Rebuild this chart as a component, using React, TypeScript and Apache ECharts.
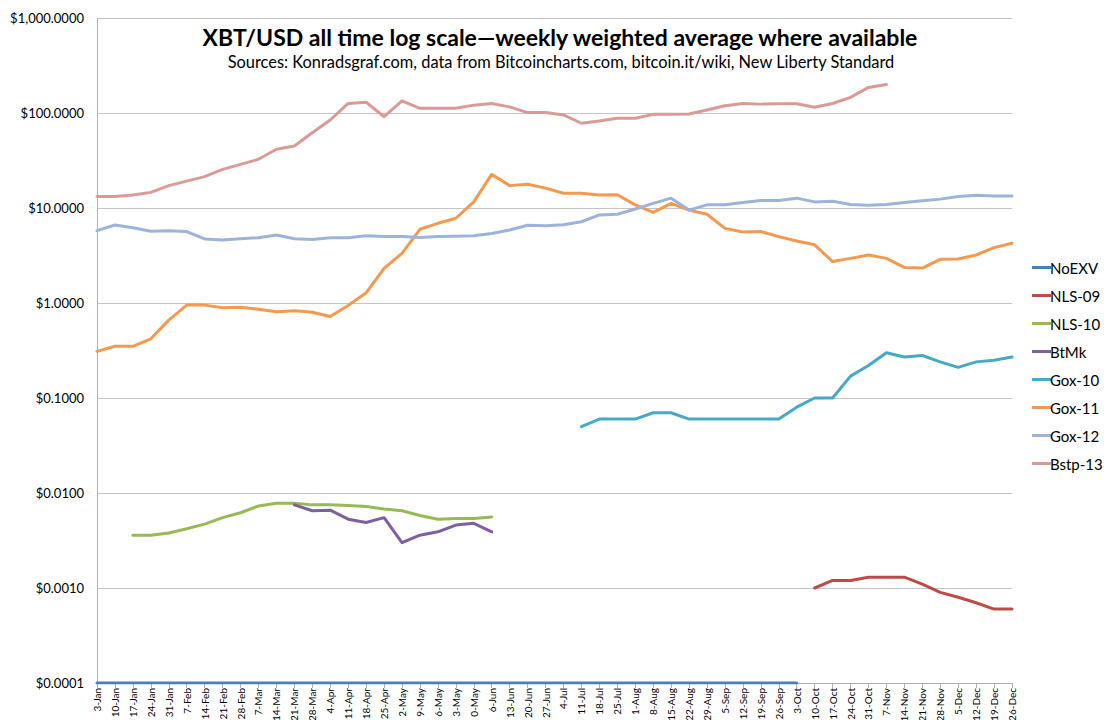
import React, { useEffect, useRef } from "react";
import * as echarts from "echarts";

const categories = ["3-Jan","10-Jan","17-Jan","24-Jan","31-Jan","7-Feb","14-Feb","21-Feb","28-Feb","7-Mar","14-Mar","21-Mar","28-Mar","4-Apr","11-Apr","18-Apr","25-Apr","2-May","9-May","6-May","3-May","0-May","6-Jun","13-Jun","20-Jun","27-Jun","4-Jul","11-Jul","18-Jul","25-Jul","1-Aug","8-Aug","15-Aug","22-Aug","29-Aug","5-Sep","12-Sep","19-Sep","26-Sep","3-Oct","10-Oct","17-Oct","24-Oct","31-Oct","7-Nov","14-Nov","21-Nov","28-Nov","5-Dec","12-Dec","19-Dec","26-Dec"];

const _ = null;

const noEXV = [0.0001,0.0001,0.0001,0.0001,0.0001,0.0001,0.0001,0.0001,0.0001,0.0001,
  0.0001,0.0001,0.0001,0.0001,0.0001,0.0001,0.0001,0.0001,0.0001,0.0001,
  0.0001,0.0001,0.0001,0.0001,0.0001,0.0001,0.0001,0.0001,0.0001,0.0001,
  0.0001,0.0001,0.0001,0.0001,0.0001,0.0001,0.0001,0.0001,0.0001,0.0001,
  _,_,_,_,_,_,_,_,_,_,_,_];

const nls09 = [_,_,_,_,_,_,_,_,_,_,_,_,_,_,_,_,_,_,_,_,_,_,_,_,_,_,_,_,_,_,_,_,_,_,_,_,_,_,_,_,
  0.001,0.0012,0.0012,0.0013,0.0013,0.0013,0.0011,0.0009,0.0008,0.0007,0.0006,0.0006];

const nls10 = [_,_,0.0036,0.0036,0.0038,0.0042,0.0047,0.0055,0.0062,0.0073,0.0078,0.0078,0.0075,0.0075,0.0074,0.0072,0.0068,0.0065,0.0058,0.0053,0.0054,0.0054,0.0056,
  _,_,_,_,_,_,_,_,_,_,_,_,_,_,_,_,_,_,_,_,_,_,_,_,_,_,_,_,_,_];

const btmk = [_,_,_,_,_,_,_,_,_,_,_,0.0075,0.0065,0.0066,0.0053,0.0049,0.0055,0.003,0.0036,0.0039,0.0046,0.0048,0.0039,
  _,_,_,_,_,_,_,_,_,_,_,_,_,_,_,_,_,_,_,_,_,_,_,_,_,_,_,_,_,_];

const gox10 = [_,_,_,_,_,_,_,_,_,_,_,_,_,_,_,_,_,_,_,_,_,_,_,_,_,_,_,
  0.05,0.06,0.06,0.06,0.07,0.07,0.06,0.06,0.06,0.06,0.06,0.06,0.08,0.1,0.1,0.17,0.22,0.3,0.27,0.28,0.24,0.21,0.24,0.25,0.27];

const gox11 = [0.31,0.35,0.35,0.42,0.66,0.95,0.95,0.89,0.9,0.86,
  0.81,0.83,0.8,0.72,0.94,1.28,2.32,3.33,5.97,6.9,
  7.8,11.6,22.6,17.2,17.8,16.2,14.3,14.3,13.7,13.8,
  10.8,9.0,11.2,9.5,8.6,6.1,5.6,5.65,5.0,4.5,
  4.1,2.73,2.95,3.2,2.95,2.37,2.33,2.88,2.9,3.2,3.83,4.25];

const gox12 = [5.77,6.62,6.2,5.68,5.77,5.65,4.72,4.6,4.75,4.87,
  5.2,4.75,4.65,4.85,4.85,5.1,5.0,5.0,4.9,5.0,
  5.05,5.1,5.4,5.87,6.58,6.5,6.67,7.17,8.45,8.6,
  9.76,11.2,12.7,9.5,10.8,10.8,11.4,12.0,12.0,12.7,
  11.6,11.8,10.9,10.7,10.9,11.4,11.9,12.4,13.2,13.6,13.4,13.4];

const bstp13 = [13.2,13.2,13.7,14.6,17.2,19.2,21.4,25.5,28.8,32.6,
  41.5,45,62,84.4,126,130,91.4,134,112,112,
  112,121,126,116,101,101,95.3,78,82.4,88,
  88,96.8,96.8,97.5,107.6,119,126,124,125,125,
  115,126,146,186,200,_,_,_,_,_,_,_];

const seriesNames = ["NoEXV","NLS-09","NLS-10","BtMk","Gox-10","Gox-11","Gox-12","Bstp-13"];
const seriesData = [noEXV, nls09, nls10, btmk, gox10, gox11, gox12, bstp13];
const seriesColors = ["#4a7ebb","#be4b48","#98b954","#7d60a0","#46aac5","#f39a4f","#9db3dc","#d99a98"];

const titleText = "XBT/USD all time log scale\u2014weekly weighted average where available";
const subtitleText = "Sources: Konradsgraf.com, data from Bitcoincharts.com, bitcoin.it/wiki, New Liberty Standard";

function fmtDollar(v: number): string {
  const s = Number(v).toFixed(4);
  const [ip, dp] = s.split(".");
  const withCommas = ip.replace(/\B(?=(\d{3})+(?!\d))/g, ",");
  return "$" + withCommas + "." + dp;
}

export default function App() {
  const ref = useRef<HTMLDivElement>(null);
  useEffect(() => {
    if (!ref.current) return;
    const chart = echarts.init(ref.current, null, { renderer: "svg" });
    const font = "Lato, 'Open Sans', sans-serif";
    chart.setOption({
      animation: false,
      backgroundColor: "#ffffff",
      textStyle: { fontFamily: font },
      grid: { left: 97, right: 92, top: 18, bottom: 37, containLabel: false, outerBoundsMode: "none" },
      legend: {
        orient: "vertical",
        left: 1027,
        top: 255,
        icon: "rect",
        itemWidth: 19,
        itemHeight: 3,
        itemGap: 13,
        data: seriesNames,
        textStyle: { fontFamily: font, fontSize: 15, color: "#000", fontWeight: "normal", padding: [0, 0, 0, -6] },
      },
      graphic: [
        {
          type: "text",
          x: 560,
          y: 37,
          style: {
            text: titleText,
            fontFamily: font,
            fontSize: 23,
            fontWeight: "bold",
            fill: "#000",
            textAlign: "center",
            textVerticalAlign: "middle",
          },
        },
        {
          type: "text",
          x: 561,
          y: 61,
          style: {
            text: subtitleText,
            fontFamily: font,
            fontSize: 16.4,
            fill: "#000",
            textAlign: "center",
            textVerticalAlign: "middle",
          },
        },
      ],
      xAxis: {
        type: "category",
        data: categories,
        boundaryGap: false,
        axisLine: { show: true, lineStyle: { color: "#b0b0b0", width: 1 } },
        axisTick: { show: true, alignWithLabel: true, length: 5, lineStyle: { color: "#b0b0b0" } },
        axisLabel: { interval: 0, rotate: 90, fontSize: 10, color: "#000", margin: 5, fontFamily: font },
        splitLine: { show: false },
      },
      yAxis: {
        type: "log",
        logBase: 10,
        min: 0.0001,
        max: 1000,
        axisLine: { show: true, lineStyle: { color: "#b0b0b0", width: 1 } },
        axisTick: { show: false },
        axisLabel: {
          fontSize: 13,
          fontWeight: "normal",
          color: "#000",
          margin: 13,
          fontFamily: font,
          formatter: (v: number) => fmtDollar(v),
        },
        splitLine: { show: true, lineStyle: { color: "#c4c4c4", width: 1 } },
        minorTick: { show: false },
      },
      series: seriesNames.map((name, i) => ({
        name,
        type: "line",
        data: seriesData[i],
        showSymbol: false,
        symbol: "none",
        connectNulls: false,
        lineStyle: { width: 3, color: seriesColors[i], cap: "round", join: "round" },
        itemStyle: { color: seriesColors[i] },
        z: 2 + i,
      })),
    });
    return () => chart.dispose();
  }, []);
  return <div ref={ref} style={{ position: "fixed", left: 0, top: 0, width: 1104, height: 720 }} />;
}
